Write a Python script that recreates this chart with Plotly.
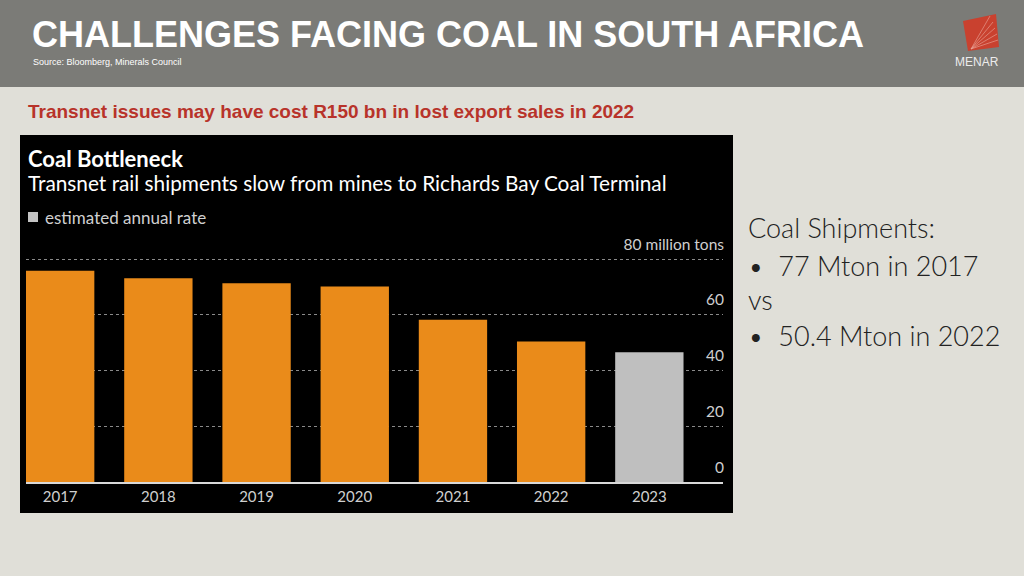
import plotly.graph_objects as go

# data
YEARS = ["2017", "2018", "2019", "2020", "2021", "2022", "2023"]
SHIPMENTS = [75.8, 73.1, 71.3, 70.2, 58.3, 50.5, 46.6]   # million tons
ESTIMATE = [False, False, False, False, False, False, True]
Y_TICKS = [0, 20, 40, 60, 80]
Y_TICKTEXT = ["0", "20", "40", "60", "80 million tons"]

W, H = 1024, 576
BG, HEADER, PANEL = "#e0dfd8", "#7b7b77", "#000000"
ORANGE, EST_GREY, RED = "#ea8b1a", "#bfbfbf", "#b8332a"
CHART_FONT = "Lato"

# plot area in pixels: y=0 sits at 482.3px, 2.79 px per million tons
Y_MAX = 82
BASE_PX, PX_PER_UNIT = 482.3, 2.79


def px(x):
    return x / W


def py(y):
    return 1 - y / H


bar_colors = [EST_GREY if e else ORANGE for e in ESTIMATE]

fig = go.Figure()
fig.add_trace(go.Bar(
    x=YEARS, y=SHIPMENTS,
    marker=dict(color=bar_colors, line_width=0),
    showlegend=False,
    hovertemplate="%{x}: %{y:.1f} Mt<extra></extra>",
))

# slide furniture
shapes = [
    dict(type="rect", xref="paper", yref="paper", x0=0, x1=1, y0=py(87), y1=1,
         fillcolor=HEADER, line_width=0, layer="below"),
    dict(type="rect", xref="paper", yref="paper", x0=px(20), x1=px(733), y0=py(513), y1=py(135),
         fillcolor=PANEL, line_width=0, layer="below"),
    # legend swatch
    dict(type="rect", xref="paper", yref="paper", x0=px(28), x1=px(38), y0=py(222), y1=py(212),
         fillcolor="#c4c4c4", line_width=0),
    # MENAR logo mark
    dict(type="path", xref="paper", yref="paper",
         path=f"M {px(963)},{py(21)} L {px(996)},{py(14)} L {px(999)},{py(47)} L {px(968)},{py(51)} Z",
         fillcolor="#c9412f", line_width=0),
]
for tx, ty in [(990, 16), (993, 22), (995, 28), (997, 34), (998, 40)]:
    shapes.append(dict(type="line", xref="paper", yref="paper",
                       x0=px(971), y0=py(49), x1=px(tx), y1=py(ty),
                       line=dict(color="#e9a79c", width=0.6)))

SIDE_FONT = dict(family="Lato", size=27, color="#222222", weight=300)
annotations = [
    dict(text="<b>CHALLENGES FACING COAL IN SOUTH AFRICA</b>", x=px(30), y=py(35),
         font=dict(family="Liberation Sans", size=36, color="white")),
    dict(text="Source: Bloomberg, Minerals Council", x=px(31), y=py(62),
         font=dict(family="Liberation Sans", size=9, color="white")),
    dict(text="MENAR", x=px(977), y=py(62), xanchor="center",
         font=dict(family="Liberation Sans", size=12, color="#ececec")),
    dict(text="<b>Transnet issues may have cost R150 bn in lost export sales in 2022</b>",
         x=px(26), y=py(111),
         font=dict(family="Liberation Sans", size=19, color=RED)),
    dict(text="<b>Coal Bottleneck</b>", x=px(26), y=py(158),
         font=dict(family=CHART_FONT, size=22, color="white")),
    dict(text="Transnet rail shipments slow from mines to Richards Bay Coal Terminal",
         x=px(26), y=py(183),
         font=dict(family=CHART_FONT, size=20.8, color="white")),
    dict(text="estimated annual rate", x=px(43), y=py(217),
         font=dict(family=CHART_FONT, size=17, color="#d0d0d0")),
    dict(text="Coal Shipments:", x=px(746), y=py(228), font=SIDE_FONT),
    dict(text="•  77 Mton in 2017", x=px(746), y=py(265), font=SIDE_FONT),
    dict(text="vs", x=px(746), y=py(299), font=SIDE_FONT),
    dict(text="•  50.4 Mton in 2022", x=px(746), y=py(335), font=SIDE_FONT),
]
for a in annotations:
    a.update(xref="paper", yref="paper", showarrow=False, yanchor="middle")
    a.setdefault("xanchor", "left")

fig.update_layout(
    width=W, height=H,
    margin=dict(l=0, r=0, t=0, b=0),
    paper_bgcolor=BG, plot_bgcolor=PANEL,
    font=dict(family=CHART_FONT, color="#d0d0d0"),
    bargap=0.304,
    shapes=shapes,
    annotations=annotations,
)
fig.update_xaxes(
    type="category", domain=[px(26), px(723)], range=[-0.348, 6.75],
    showline=True, linecolor="#d8d8d8", linewidth=1.5,
    showgrid=False, ticks="", tickfont=dict(size=15, color="#cfcfcf"),
    automargin=False, fixedrange=True,
)
fig.update_yaxes(
    domain=[py(BASE_PX), py(BASE_PX - Y_MAX * PX_PER_UNIT)], range=[0, Y_MAX], side="right",
    tickvals=Y_TICKS, ticktext=Y_TICKTEXT,
    ticklabelposition="inside top", ticklabeloverflow="allow",
    ticklabelstandoff=-4, ticklabelshift=-4,
    tickfont=dict(size=15.5, color="#cfcfcf"),
    showgrid=True, gridcolor="#8a8a8a", griddash="dot", gridwidth=1,
    zeroline=False, showline=False, ticks="", automargin=False, fixedrange=True,
)

fig.write_html("out.html", config={"displayModeBar": False},
               post_script="document.body.style.margin = '0';")
